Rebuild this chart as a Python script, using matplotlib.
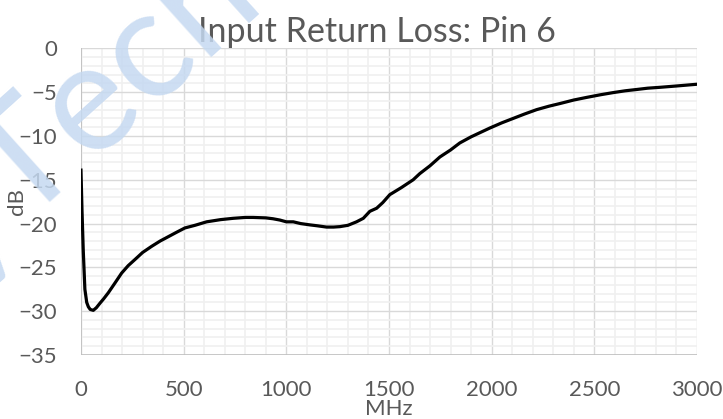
import matplotlib.pyplot as plt
from matplotlib.ticker import MultipleLocator

freq = [0, 5, 11, 19, 28, 36, 45, 60, 75, 92, 110, 133, 165, 198, 230, 263, 300, 344,
        385, 425, 465, 506, 555, 612, 680, 741, 800, 838, 900, 935, 969, 1000, 1034,
        1070, 1115, 1150, 1196, 1230, 1261, 1300, 1342, 1375, 1407, 1440, 1470, 1504,
        1560, 1618, 1650, 1700, 1748, 1800, 1845, 1900, 1991, 2050, 2105, 2160, 2219,
        2280, 2333, 2400, 2463, 2530, 2593, 2650, 2706, 2760, 2820, 2900, 2950, 3000]
db = [-13.9, -18.5, -23.0, -27.5, -29.0, -29.5, -29.8, -29.9, -29.6, -29.1, -28.6,
      -27.9, -26.8, -25.65, -24.8, -24.1, -23.3, -22.6, -22.0, -21.5, -21.0, -20.5,
      -20.2, -19.8, -19.55, -19.4, -19.3, -19.3, -19.35, -19.45, -19.6, -19.8, -19.8,
      -20.0, -20.15, -20.25, -20.4, -20.4, -20.35, -20.2, -19.8, -19.4, -18.6, -18.25,
      -17.6, -16.7, -15.9, -15.0, -14.3, -13.4, -12.4, -11.6, -10.8, -10.1, -9.1,
      -8.5, -8.0, -7.5, -7.0, -6.6, -6.3, -5.9, -5.6, -5.3, -5.05, -4.85, -4.7,
      -4.55, -4.45, -4.3, -4.2, -4.1]

plt.rcParams['font.family'] = ['Lato', 'DejaVu Sans']
txt = '#595959'

fig = plt.figure(figsize=(7.23, 4.19), dpi=100)
ax = fig.add_axes([0.112, 0.1527, 0.852, 0.732])

ax.plot(freq, db, color='black', lw=2.3, zorder=3)

ax.set_xlim(0, 3000)
ax.set_ylim(-35, 0)
ax.xaxis.set_major_locator(MultipleLocator(500))
ax.xaxis.set_minor_locator(MultipleLocator(100))
ax.yaxis.set_major_locator(MultipleLocator(5))
ax.yaxis.set_minor_locator(MultipleLocator(1))
ax.grid(which='major', color='#d9d9d9', lw=1.0, zorder=1)
ax.grid(which='minor', color='#f0f0f0', lw=1.2, zorder=0)
ax.set_axisbelow(True)
for s in ax.spines.values():
    s.set_visible(False)
ax.axhline(-35, color='#bfbfbf', lw=1.2, zorder=2)
ax.axvline(0, color='#bfbfbf', lw=1.2, zorder=2)
ax.tick_params(which='both', length=0, colors=txt, labelsize=16)
ax.tick_params(axis='y', pad=17)
ax.tick_params(axis='x', pad=18)

ax.set_title('Input Return Loss: Pin 6', fontsize=24.5, color=txt, pad=3, x=0.481)
ax.set_xlabel('MHz', fontsize=16, color=txt, labelpad=-1)
ax.set_ylabel('dB', fontsize=16, color=txt, labelpad=-6)

# faint watermark
fig.text(0.120, 0.737, 'yTech', fontsize=110, color='#c5d9f1', alpha=0.85,
         rotation=42, ha='center', va='center', rotation_mode='anchor', zorder=0)

fig.savefig('out.png', dpi=100)
